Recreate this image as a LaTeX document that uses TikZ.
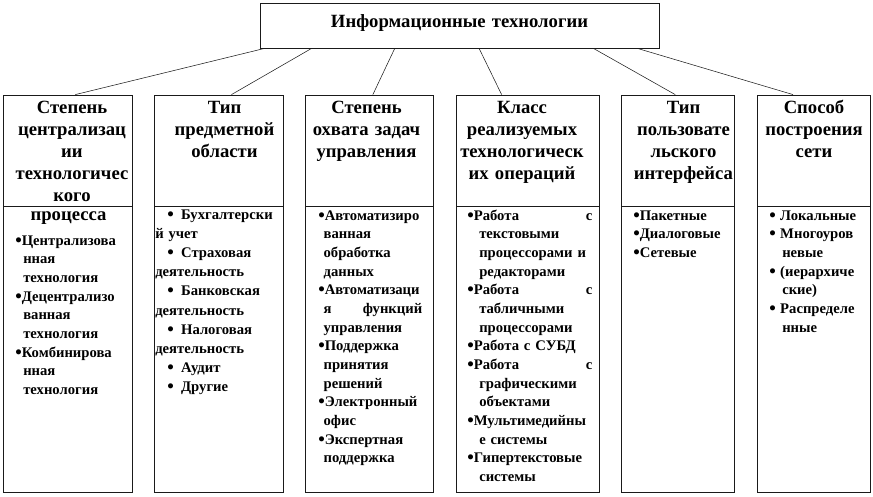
\documentclass[tikz,border=0pt]{standalone}
\usepackage{fontspec,xcolor,tikz}
\setmainfont{Liberation Serif}
\usetikzlibrary{calc,fit}
\definecolor{ink}{HTML}{000000}
\definecolor{rand}{HTML}{1A1A1A}
\newcommand{\kopf}{\fontsize{14}{16.5}\selectfont\bfseries}
\newcommand{\eintrag}{\fontsize{11}{14}\selectfont\bfseries}
\newcommand{\weiter}[1]{\hspace*{#1}}
\newcommand{\pkt}{\raisebox{-0.8pt}{\fontsize{14}{14}\selectfont\textbullet}}
\tikzset{rahmen/.style={draw=rand,line width=0.6pt,inner sep=0},
  kopftext/.style={inner sep=0,text=ink,font=\kopf,align=center,text width=#1,anchor=base},
  liste/.style={inner sep=0,text=ink,font=\eintrag,align=left,text width=#1,anchor=base west},
  verbinder/.style={rand,line width=0.4pt}}

\begin{document}
\begin{tikzpicture}[x=0.75pt,y=-0.75pt]
\useasboundingbox (0,0) rectangle (873,496);
% Oberbegriff
\node[rahmen,fit={(260,3) (659,48)}] (titel) {};
\node[kopftext=290pt] (titeltext) at (459.5,27) {Информационные технологии};
% Rahmen der sechs Spalten
\node[rahmen,fit={(3,95) (132,206)}] (kopf1) {};
\node[rahmen,fit={(3,206) (132,492)}] (liste1) {};
\node[rahmen,fit={(154,95) (283,206)}] (kopf2) {};
\node[rahmen,fit={(154,206) (283,492)}] (liste2) {};
\node[rahmen,fit={(305,95) (433,206)}] (kopf3) {};
\node[rahmen,fit={(305,206) (433,492)}] (liste3) {};
\node[rahmen,fit={(456,95) (599,206)}] (kopf4) {};
\node[rahmen,fit={(456,206) (599,492)}] (liste4) {};
\node[rahmen,fit={(621,95) (734,206)}] (kopf5) {};
\node[rahmen,fit={(621,206) (734,492)}] (liste5) {};
\node[rahmen,fit={(757,95) (870,206)}] (kopf6) {};
\node[rahmen,fit={(757,206) (870,492)}] (liste6) {};
% Verbindungslinien
\draw[verbinder] ($(titel.south west)!0.0125!(titel.south east)$) -- ($(kopf1.north west)!0.56!(kopf1.north east)$);
\draw[verbinder] ($(titel.south west)!0.13!(titel.south east)$) -- ($(kopf2.north west)!0.60!(kopf2.north east)$);
\draw[verbinder] ($(titel.south west)!0.338!(titel.south east)$) -- ($(kopf3.north west)!0.53!(kopf3.north east)$);
\draw[verbinder] ($(titel.south west)!0.549!(titel.south east)$) -- ($(kopf4.north west)!0.32!(kopf4.north east)$);
\draw[verbinder] ($(titel.south west)!0.835!(titel.south east)$) -- ($(kopf5.north west)!0.48!(kopf5.north east)$);
\draw[verbinder] ($(titel.south west)!0.945!(titel.south east)$) -- ($(kopf6.north west)!0.32!(kopf6.north east)$);
% Spaltenkoepfe
\node[kopftext=96pt] (k1text) at (72,113) {Степень\\централизац\\ии\\технологичес\\кого};
\node[kopftext=96pt] (k1rest) at (68.5,220) {процесса};
\node[kopftext=96pt] (k2text) at (224.5,113) {Тип\\предметной\\области};
\node[kopftext=96pt] (k3text) at (366.5,113) {Степень\\охвата задач\\управления};
\node[kopftext=107pt] (k4text) at (522,113) {Класс\\реализуемых\\технологическ\\их операций};
\node[kopftext=85pt] (k5text) at (683.5,113) {Тип\\пользовате\\льского\\интерфейса};
\node[kopftext=84pt] (k6text) at (814,113) {Способ\\построения\\сети};
% Aufzaehlungen
\node[liste=88pt] (l1text) at (15,245) {\pkt Централизова\\
  \weiter{6pt}нная\\ \weiter{6pt}технология\\
  \pkt Децентрализо\\ \weiter{6pt}ванная\\ \weiter{6pt}технология\\
  \pkt Комбинирова\\ \weiter{6pt}нная\\ \weiter{6pt}технология};
\node[liste=88pt,font=\fontsize{11}{14.4}\selectfont\bfseries] (l2text) at (167,219) {\pkt\hspace{5.5pt}Бухгалтерски\\
  \weiter{-9pt}й учет\\
  \pkt\hspace{5.5pt}Страховая\\ \weiter{-9pt}деятельность\\
  \pkt\hspace{5.5pt}Банковская\\ \weiter{-9pt}деятельность\\
  \pkt\hspace{5.5pt}Налоговая\\ \weiter{-9pt}деятельность\\
  \pkt\hspace{5.5pt}Аудит\\
  \pkt\hspace{5.5pt}Другие};
\node[liste=78pt] (l3text) at (318,220) {\pkt Автоматизиро\\
  \weiter{4pt}ванная\\ \weiter{4pt}обработка\\ \weiter{4pt}данных\\
  \pkt Автоматизаци\\ \weiter{4pt}я\hfill функций\\ \weiter{4pt}управления\\
  \pkt Поддержка\\ \weiter{4pt}принятия\\ \weiter{4pt}решений\\
  \pkt Электронный\\ \weiter{4pt}офис\\
  \pkt Экспертная\\ \weiter{4pt}поддержка};
\node[liste=93.75pt] (l4text) at (467,220) {\pkt Работа\hfill с\\
  \weiter{9pt}текстовыми\\ \weiter{9pt}\mbox{процессорами и}\\ \weiter{9pt}редакторами\\
  \pkt Работа\hfill с\\ \weiter{9pt}табличными\\ \weiter{9pt}процессорами\\
  \pkt Работа с СУБД\\
  \pkt Работа\hfill с\\ \weiter{9pt}графическими\\ \weiter{9pt}объектами\\
  \pkt Мультимедийны\\ \weiter{9pt}е системы\\
  \pkt Гипертекстовые\\ \weiter{9pt}системы};
\node[liste=75pt] (l5text) at (633,220) {\pkt Пакетные\\ \pkt Диалоговые\\ \pkt Сетевые};
\node[liste=75pt] (l6text) at (769,220) {\pkt\hspace{3.3pt}Локальные\\
  \pkt\hspace{3.3pt}Многоуров\\ \weiter{9.75pt}невые\\
  \pkt\hspace{3.3pt}(иерархиче\\ \weiter{9.75pt}ские)\\
  \pkt\hspace{3.3pt}Распределе\\ \weiter{9.75pt}нные};
\end{tikzpicture}
\end{document}
